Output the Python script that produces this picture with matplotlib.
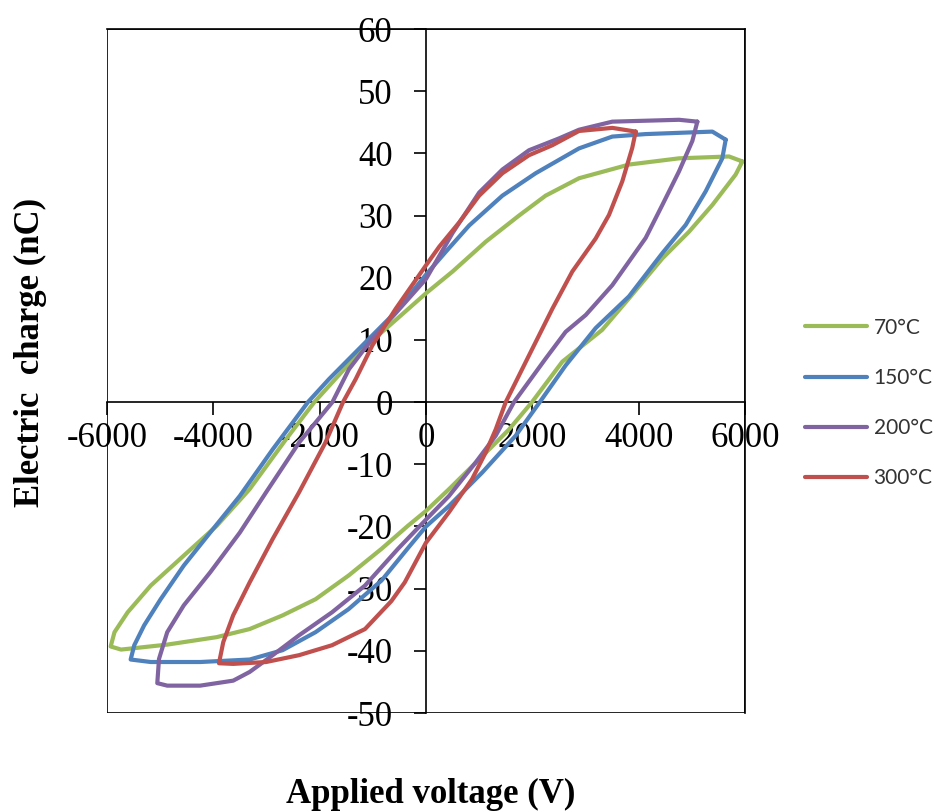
import numpy as np
import matplotlib
matplotlib.use("Agg")
from matplotlib import pyplot as plt
from matplotlib.patches import Rectangle

plt.rcParams["axes.unicode_minus"] = False  # excel usa guion normal

# hysteresis loops: top branch (right tip -> left tip), then bottom branch back
v70 = [5950, 5700, 4759, 3818, 2878, 2250, 1750, 1125, 500, 0, -570, -1198, -1824, -2100, -2635, -3317, -3937, -4557, -5177, -5611, -5859, -5931,
       -5735, -4867, -3937, -3317, -2697, -2077, -1457, -837, -341, 0, 433, 1060, 1561, 1994, 2564, 3312, 3800, 4445, 4947, 5386, 5825, 5950]
q70 = [38.7, 39.5, 39.2, 38.2, 36.0, 33.2, 30.0, 25.8, 21.0, 17.5, 13.2, 8.5, 2.6, 0, -6.0, -14.0, -19.9, -24.7, -29.5, -33.8, -37.0, -39.3,
       -39.8, -39.0, -37.8, -36.5, -34.3, -31.7, -27.9, -23.6, -19.9, -17.5, -14.0, -8.7, -4.4, 0, 6.5, 11.6, 16.5, 23.1, 27.4, 31.7, 36.6, 38.7]

v150 = [5637, 5386, 4132, 3504, 2878, 2062, 1437, 812, 375, 0, -570, -1198, -1824, -2220, -2883, -3503, -4061, -4557, -4991, -5301, -5487, -5555,
        -5177, -4247, -3317, -2697, -2077, -1457, -837, -341, 0, 433, 1060, 1687, 2140, 2627, 3191, 3818, 4450, 4885, 5261, 5573, 5637]
q150 = [42.2, 43.5, 43.1, 42.7, 40.8, 36.8, 33.2, 28.4, 24.2, 20.5, 14.5, 9.1, 3.7, 0, -7.6, -15.1, -21.0, -26.3, -31.7, -35.9, -39.1, -41.4,
        -41.8, -41.8, -41.4, -39.9, -37.0, -33.3, -28.7, -23.5, -20.0, -16.7, -11.3, -5.4, 0, 5.9, 11.9, 17.0, 24.0, 28.5, 33.9, 39.2, 42.2]

v200 = [5104, 4759, 3504, 2878, 2500, 1937, 1437, 1000, 500, 0, -570, -1010, -1448, -1760, -2387, -3007, -3503, -4061, -4557, -4867, -5022, -5054,
        -4867, -4247, -3627, -3317, -2883, -2387, -1767, -1147, -527, 0, 433, 935, 1311, 1655, 2251, 2627, 3004, 3504, 4132, 4445, 4759, 5010, 5104]
q200 = [45.1, 45.4, 45.1, 43.8, 42.4, 40.5, 37.4, 33.7, 27.2, 19.8, 14.3, 10.2, 5.3, 0, -6.5, -14.5, -21.0, -27.4, -32.7, -37.0, -41.3, -45.2,
        -45.6, -45.6, -44.8, -43.4, -40.7, -37.5, -33.8, -29.5, -23.6, -18.9, -15.1, -9.7, -5.4, 0, 7.0, 11.3, 14.0, 18.8, 26.4, 31.7, 37.1, 42.0, 45.1]

v300 = [3944, 3504, 2878, 2375, 1937, 1437, 1000, 625, 250, 0, -570, -1010, -1322, -1560, -1891, -2387, -2883, -3317, -3627, -3813, -3894,
        -3627, -3007, -2387, -1767, -1147, -651, -400, 0, 433, 866, 1123, 1311, 1500, 1937, 2376, 2752, 3191, 3442, 3692, 3880, 3944]
q300 = [43.5, 44.1, 43.6, 41.3, 39.7, 36.8, 33.2, 28.9, 25.0, 22.0, 15.0, 9.1, 3.7, 0, -6.5, -14.5, -22.0, -29.0, -34.3, -38.6, -42.0,
        -42.1, -41.8, -40.7, -39.1, -36.5, -32.0, -29.0, -22.6, -17.7, -12.4, -8.1, -4.4, 0, 7.5, 15.0, 21.0, 26.3, 30.1, 35.5, 40.9, 43.5]

labels = ["70°C", "150°C", "200°C", "300°C"]
colores = ["#9BBB59", "#4F81BD", "#8064A2", "#C0504D"]

xticks = [-6000, -4000, -2000, 0, 2000, 4000, 6000]
yticks = [-50, -40, -30, -20, -10, 0, 10, 20, 30, 40, 50, 60]

fig = plt.figure(figsize=(9.46, 8.11), dpi=100)
ax = fig.add_axes([107/946, 1 - 713/811, 638/946, 684/811])

series = [(v70, q70), (v150, q150), (v200, q200), (v300, q300)]
for (v, q), lab, c in zip(series, labels, colores):
    ax.plot(v, q, color=c, lw=3.0, label=lab, solid_joinstyle="round", solid_capstyle="round", zorder=3)

ax.set_xlim(-6000, 6000)
ax.set_ylim(-50, 60)
ax.set_xticks(xticks)
ax.set_yticks(yticks)
ax.set_axisbelow(True)

# ejes cruzando en cero, estilo excel
ax.spines["left"].set_position(("data", 0))
ax.spines["bottom"].set_position(("data", 0))
for s in ax.spines.values():
    s.set_linewidth(1.2)
ax.add_patch(Rectangle((0, 0), 1, 1, transform=ax.transAxes, fill=False, lw=1.2, ec="black", zorder=4))

ax.tick_params(axis="both", direction="out", length=9, width=1.2, labelsize=25)
ax.tick_params(axis="x", pad=5)
ax.tick_params(axis="y", pad=15)
for t in ax.get_xticklabels() + ax.get_yticklabels():
    t.set_fontfamily("Liberation Serif")

fig.text(30/946, 1 - 352/811, "Electric  charge (nC)", rotation=90, ha="center", va="center",
         fontsize=25, fontweight="bold", family="Liberation Serif")
fig.text(431/946, 1 - 803/811, "Applied voltage (V)", ha="center", va="baseline",
         fontsize=25, fontweight="bold", family="Liberation Serif")

leg = fig.legend(loc="center left", bbox_to_anchor=(786/946, 1 - 403/811), frameon=False,
                 prop={"family": "Lato", "size": 15}, handlelength=3.0, handletextpad=0.3, labelspacing=1.45)
for t in leg.get_texts():
    t.set_color("#333333")

fig.savefig("out.png", dpi=100)
